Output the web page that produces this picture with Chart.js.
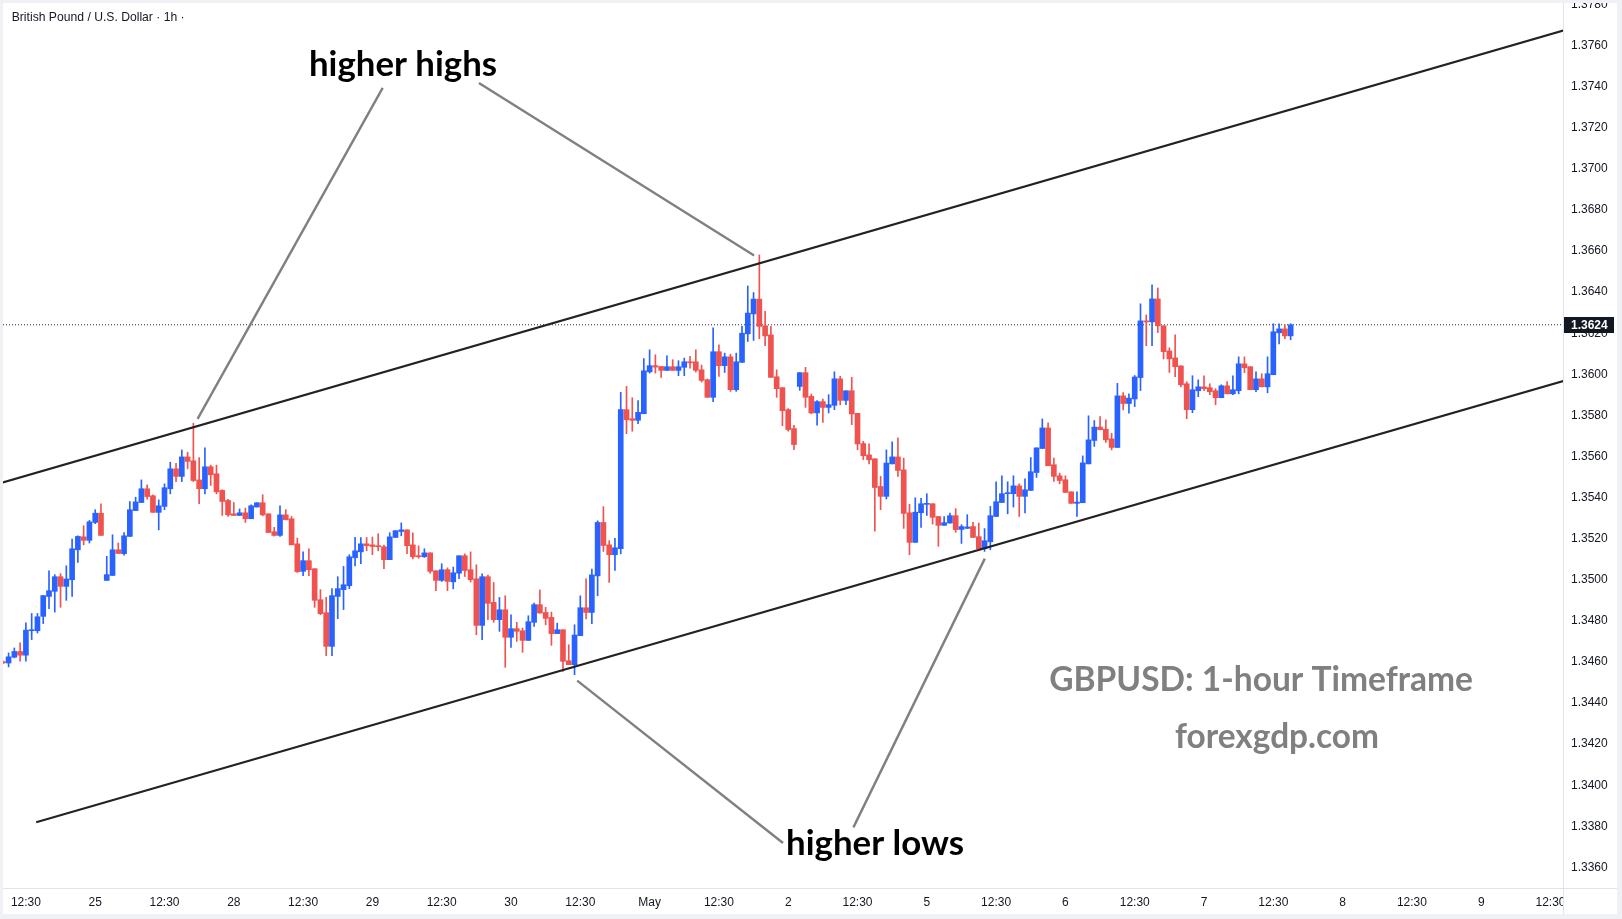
<!DOCTYPE html>
<html><head><meta charset="utf-8">
<script src="https://cdn.jsdelivr.net/npm/chart.js@4"></script>
<style>html,body{margin:0;padding:0;background:#F0F1F4;}canvas{display:block;}</style>
</head><body>
<canvas id="c" width="1622" height="919"></canvas>
<script>
const opens=[1.34602,1.34595,1.34623,1.34651,1.34633,1.34752,1.34752,1.34822,1.34919,1.34944,
1.35015,1.34968,1.35000,1.35146,1.35209,1.35192,1.35279,1.35324,1.34997,1.35021,
1.35146,1.35127,1.35211,1.35337,1.35376,1.35443,1.35409,1.35328,1.35357,1.35443,
1.35540,1.35503,1.35598,1.35579,1.35486,1.35443,1.35550,1.35516,1.35435,1.35386,
1.35321,1.35313,1.35326,1.35297,1.35354,1.35375,1.35321,1.35234,1.35216,1.35316,
1.35297,1.35175,1.35041,1.35093,1.35054,1.34903,1.34840,1.34676,1.34919,1.34952,
1.34971,1.35107,1.35136,1.35175,1.35170,1.35166,1.35161,1.35098,1.35206,1.35235,
1.35243,1.35170,1.35117,1.35112,1.35131,1.35044,1.34997,1.35049,1.34990,1.35032,
1.35117,1.35049,1.35005,1.34778,1.35015,1.34890,1.34806,1.34854,1.34720,1.34762,
1.34752,1.34705,1.34793,1.34879,1.34841,1.34817,1.34738,1.34757,1.34606,1.34587,
1.34728,1.34864,1.34841,1.35019,1.35279,1.35170,1.35122,1.35151,1.35828,1.35784,
1.35776,1.35808,1.36012,1.36042,1.36038,1.36019,1.36037,1.36019,1.36034,1.36061,
1.36061,1.36022,1.35974,1.35888,1.36110,1.36042,1.36085,1.35925,1.36058,1.36197,
1.36294,1.36366,1.36236,1.36192,1.35988,1.35935,1.35828,1.35736,1.35941,1.36008,
1.35893,1.35812,1.35867,1.35839,1.35849,1.35978,1.35873,1.35920,1.35810,1.35663,
1.35608,1.35589,1.35454,1.35406,1.35564,1.35598,1.35535,1.35326,1.35182,1.35326,
1.35367,1.35370,1.35308,1.35265,1.35276,1.35312,1.35245,1.35250,1.35259,1.35210,
1.35151,1.35185,1.35308,1.35376,1.35419,1.35419,1.35457,1.35406,1.35435,1.35522,
1.35639,1.35739,1.35560,1.35506,1.35487,1.35428,1.35372,1.35375,1.35564,1.35678,
1.35743,1.35733,1.35686,1.35644,1.35895,1.35858,1.35880,1.35984,1.36260,1.36255,
1.36367,1.36236,1.36114,1.36080,1.36041,1.35954,1.35828,1.35920,1.35939,1.35935,
1.35920,1.35886,1.35944,1.35905,1.35920,1.36051,1.36037,1.35925,1.35978,1.35939,
1.35998,1.36202,1.36221,1.36187];
const highs=[1.34605,1.34644,1.34668,1.34693,1.34791,1.34836,1.34836,1.34923,1.35044,1.35025,
1.35030,1.35068,1.35198,1.35214,1.35263,1.35289,1.35341,1.35370,1.35114,1.35219,
1.35179,1.35230,1.35381,1.35402,1.35486,1.35462,1.35414,1.35389,1.35467,1.35572,
1.35567,1.35632,1.35621,1.35762,1.35595,1.35642,1.35558,1.35558,1.35438,1.35392,
1.35376,1.35345,1.35349,1.35365,1.35375,1.35414,1.35321,1.35255,1.35360,1.35341,
1.35308,1.35203,1.35136,1.35151,1.35054,1.34952,1.34915,1.34957,1.35015,1.35065,
1.35122,1.35206,1.35205,1.35206,1.35208,1.35224,1.35169,1.35229,1.35239,1.35277,
1.35243,1.35229,1.35165,1.35151,1.35131,1.35044,1.35078,1.35058,1.35062,1.35117,
1.35126,1.35136,1.35073,1.35029,1.35023,1.34987,1.34914,1.34922,1.34830,1.34793,
1.34765,1.34825,1.34887,1.34951,1.34866,1.34843,1.34789,1.34757,1.34684,1.34781,
1.34922,1.35005,1.35052,1.35287,1.35356,1.35190,1.35202,1.35912,1.35941,1.35886,
1.35872,1.36076,1.36119,1.36095,1.36038,1.36090,1.36071,1.36066,1.36079,1.36087,
1.36119,1.36045,1.35977,1.36226,1.36144,1.36103,1.36098,1.36103,1.36233,1.36430,
1.36398,1.36581,1.36306,1.36233,1.36022,1.35935,1.35833,1.35752,1.36008,1.36034,
1.35904,1.35872,1.35880,1.35901,1.36012,1.35990,1.35920,1.35985,1.35810,1.35674,
1.35662,1.35589,1.35503,1.35632,1.35671,1.35691,1.35592,1.35367,1.35399,1.35396,
1.35419,1.35370,1.35308,1.35308,1.35325,1.35346,1.35268,1.35317,1.35279,1.35276,
1.35249,1.35357,1.35477,1.35506,1.35477,1.35506,1.35467,1.35491,1.35595,1.35642,
1.35783,1.35764,1.35592,1.35519,1.35506,1.35428,1.35428,1.35603,1.35798,1.35775,
1.35794,1.35778,1.35713,1.35956,1.35911,1.35905,1.35994,1.36343,1.36289,1.36435,
1.36420,1.36236,1.36129,1.36192,1.36041,1.35964,1.35993,1.35973,1.35993,1.35954,
1.35930,1.35949,1.35964,1.35993,1.36085,1.36085,1.36037,1.36012,1.36003,1.36085,
1.36246,1.36246,1.36241,1.36246];
const lows=[1.34592,1.34576,1.34620,1.34604,1.34604,1.34709,1.34741,1.34787,1.34860,1.34843,
1.34866,1.34900,1.34919,1.35085,1.35170,1.35179,1.35273,1.35216,1.34997,1.35021,
1.35128,1.35120,1.35211,1.35337,1.35376,1.35392,1.35328,1.35243,1.35341,1.35418,
1.35478,1.35478,1.35540,1.35478,1.35370,1.35418,1.35459,1.35418,1.35313,1.35308,
1.35313,1.35313,1.35279,1.35297,1.35354,1.35311,1.35230,1.35213,1.35211,1.35292,
1.35170,1.35036,1.35020,1.35020,1.34866,1.34830,1.34631,1.34631,1.34811,1.34855,
1.34957,1.35068,1.35078,1.35141,1.35122,1.35141,1.35054,1.35098,1.35206,1.35214,
1.35127,1.35102,1.35105,1.35109,1.35032,1.34947,1.34992,1.34947,1.34956,1.35005,
1.35016,1.34989,1.34733,1.34708,1.34806,1.34793,1.34749,1.34574,1.34671,1.34700,
1.34647,1.34705,1.34773,1.34838,1.34781,1.34681,1.34738,1.34554,1.34587,1.34538,
1.34728,1.34809,1.34786,1.34922,1.35138,1.34987,1.35045,1.35126,1.35711,1.35723,
1.35760,1.35808,1.36006,1.36006,1.35985,1.36019,1.36019,1.35993,1.35993,1.36030,
1.36011,1.35962,1.35888,1.35867,1.35990,1.36009,1.35917,1.35917,1.36058,1.36160,
1.36165,1.36173,1.36139,1.35985,1.35888,1.35750,1.35723,1.35633,1.35922,1.35839,
1.35808,1.35752,1.35766,1.35812,1.35828,1.35852,1.35852,1.35755,1.35633,1.35585,
1.35564,1.35236,1.35341,1.35393,1.35564,1.35503,1.35250,1.35122,1.35182,1.35255,
1.35313,1.35271,1.35163,1.35265,1.35276,1.35231,1.35177,1.35250,1.35206,1.35151,
1.35138,1.35146,1.35308,1.35376,1.35321,1.35354,1.35308,1.35325,1.35435,1.35498,
1.35639,1.35555,1.35479,1.35467,1.35425,1.35372,1.35308,1.35375,1.35564,1.35649,
1.35730,1.35668,1.35632,1.35644,1.35827,1.35811,1.35843,1.35921,1.36139,1.36139,
1.36203,1.36075,1.36009,1.35988,1.35939,1.35784,1.35813,1.35891,1.35920,1.35901,
1.35852,1.35886,1.35905,1.35901,1.35905,1.36008,1.35925,1.35915,1.35939,1.35910,
1.35998,1.36148,1.36173,1.36168];
const closes=[1.34595,1.34625,1.34651,1.34633,1.34755,1.34757,1.34820,1.34923,1.34947,1.35015,
1.34968,1.35004,1.35151,1.35211,1.35192,1.35282,1.35324,1.35216,1.35025,1.35146,
1.35128,1.35214,1.35341,1.35379,1.35443,1.35405,1.35328,1.35360,1.35448,1.35540,
1.35503,1.35598,1.35576,1.35483,1.35443,1.35550,1.35511,1.35428,1.35381,1.35316,
1.35313,1.35326,1.35297,1.35360,1.35375,1.35316,1.35230,1.35216,1.35316,1.35292,
1.35170,1.35039,1.35093,1.35049,1.34900,1.34835,1.34676,1.34923,1.34957,1.34976,
1.35112,1.35141,1.35175,1.35166,1.35162,1.35161,1.35098,1.35209,1.35239,1.35243,
1.35166,1.35112,1.35112,1.35131,1.35041,1.34997,1.35049,1.34992,1.35034,1.35117,
1.35045,1.35000,1.34778,1.35015,1.34885,1.34806,1.34854,1.34720,1.34762,1.34749,
1.34705,1.34796,1.34879,1.34838,1.34812,1.34738,1.34757,1.34603,1.34587,1.34731,
1.34864,1.34841,1.35024,1.35279,1.35167,1.35122,1.35156,1.35828,1.35779,1.35776,
1.35815,1.36017,1.36042,1.36035,1.36019,1.36037,1.36019,1.36037,1.36061,1.36056,
1.36019,1.35970,1.35888,1.36110,1.36042,1.36085,1.35925,1.36061,1.36200,1.36298,
1.36366,1.36233,1.36187,1.35985,1.35930,1.35823,1.35731,1.35658,1.36008,1.35888,
1.35812,1.35867,1.35839,1.35852,1.35978,1.35873,1.35920,1.35807,1.35661,1.35604,
1.35584,1.35449,1.35406,1.35568,1.35598,1.35532,1.35323,1.35182,1.35329,1.35370,
1.35372,1.35304,1.35265,1.35278,1.35312,1.35244,1.35259,1.35257,1.35206,1.35151,
1.35190,1.35312,1.35380,1.35419,1.35423,1.35457,1.35406,1.35438,1.35526,1.35642,
1.35739,1.35555,1.35503,1.35483,1.35425,1.35372,1.35378,1.35569,1.35681,1.35743,
1.35730,1.35681,1.35644,1.35895,1.35858,1.35884,1.35987,1.36260,1.36255,1.36367,
1.36236,1.36110,1.36075,1.36037,1.35949,1.35828,1.35925,1.35939,1.35930,1.35915,
1.35886,1.35944,1.35905,1.35925,1.36051,1.36032,1.35925,1.35978,1.35939,1.36003,
1.36207,1.36221,1.36187,1.36241];

const timeLabels=["12:30","25","12:30","28","12:30","29","12:30","30","12:30","May","12:30","2",
"12:30","5","12:30","6","12:30","7","12:30","8","12:30","9","12:30"];

// drawings in data units: [bar, price]
const upperChannel=[[0,1.35474],[270.2,1.37673]];
const lowerChannel=[[5.78,1.33820],[270.2,1.35967]];
const pointerLines=[
  [[65.78,1.37394],[33.73,1.35783]],
  [[82.44,1.37418],[130.10,1.36578]],
  [[99.46,1.34509],[135.10,1.33719]],
  [[170.04,1.35103],[147.29,1.33795]]
];
const noteTexts=["higher highs","higher lows","GBPUSD: 1-hour Timeframe","forexgdp.com"];
const noteBars=[69.30,151.03,217.87,220.64];
const notePrices=[1.37451,1.33661,1.34460,1.34180];
const headerText="British Pound / U.S. Dollar · 1h ·";

const UP='#2962FF', DOWN='#EF5350';
const X_MIN=0.035, X_MAX=270.16, Y_MIN=1.33500, Y_MAX=1.37807;
const idx=opens.map((_,i)=>i);
const candleColors=idx.map(i=>closes[i]>=opens[i]?UP:DOWN);
const lastClose=closes[closes.length-1];

const noteStyle=[
  {w:188,color:'#000000'},{w:178,color:'#000000'},{w:424,color:'#808080'},{w:204,color:'#808080'}
];
function fitFont(ctx,text,weight,family,width){
  ctx.font=weight+' 100px '+family;
  const w=ctx.measureText(text).width;
  return weight+' '+(100*width/w).toFixed(2)+'px '+family;
}

const deco={
  id:'deco',
  beforeDraw(chart){
    const ctx=chart.ctx;
    ctx.save();
    ctx.fillStyle='#F0F1F4';ctx.fillRect(0,0,1622,919);
    ctx.fillStyle='#FFFFFF';ctx.fillRect(3,3,1614,911);
    ctx.restore();
  },
  afterDatasetsDraw(chart){
    const ctx=chart.ctx,xs=chart.scales.x,ys=chart.scales.y;
    ctx.save();
    ctx.textAlign='center';ctx.textBaseline='alphabetic';
    noteTexts.forEach((t,i)=>{
      ctx.font=fitFont(ctx,t,'bold','Lato, "Open Sans", sans-serif',noteStyle[i].w);
      ctx.fillStyle=noteStyle[i].color;
      ctx.fillText(t,xs.getPixelForValue(noteBars[i]),ys.getPixelForValue(notePrices[i]));
    });
    ctx.restore();
  },
  afterDraw(chart){
    const ctx=chart.ctx,a=chart.chartArea,ys=chart.scales.y;
    ctx.save();
    ctx.fillStyle='#FFFFFF';
    ctx.fillRect(a.right,a.bottom,1617-a.right,914-a.bottom);
    ctx.strokeStyle='#E0E3EB';ctx.lineWidth=1;
    ctx.beginPath();
    ctx.moveTo(3,a.bottom+0.5);ctx.lineTo(1617,a.bottom+0.5);
    ctx.moveTo(a.right+0.5,3);ctx.lineTo(a.right+0.5,914);
    ctx.stroke();
    const y=Math.round(ys.getPixelForValue(lastClose));
    ctx.fillStyle='#131722';
    ctx.fillRect(a.right+1,y-8,50,16);
    ctx.fillStyle='#FFFFFF';
    ctx.font='bold 12px "Liberation Sans", Arial, sans-serif';
    ctx.textAlign='left';ctx.textBaseline='middle';
    ctx.fillText(lastClose.toFixed(4),a.right+8,y+0.5);
    ctx.fillStyle='#131722';
    ctx.font=fitFont(ctx,headerText,'normal','"Liberation Sans", Arial, sans-serif',173);
    ctx.fillText(headerText,11.7,17.5);
    ctx.fillStyle='#F0F1F4';
    ctx.fillRect(0,0,1622,3);ctx.fillRect(1617,0,5,919);ctx.fillRect(0,914,1622,5);ctx.fillRect(0,0,3,919);
    ctx.restore();
  }
};

const lineDs=(pts,color,width,dash,order)=>({
  type:'line',data:pts.map(p=>({x:p[0],y:p[1]})),borderColor:color,borderWidth:width,
  borderDash:dash||[],pointRadius:0,tension:0,order:order,fill:false
});

const datasets=[
  lineDs([[X_MIN,lastClose],[X_MAX,lastClose]],'#2A2E39',1,[1,2],5),
  {type:'bar',data:idx.map(i=>({x:i,y:[lows[i],highs[i]]})),backgroundColor:candleColors,
   barThickness:1,grouped:false,borderWidth:0,order:4},
  {type:'bar',data:idx.map(i=>({x:i,y:[opens[i],closes[i]]})),backgroundColor:candleColors,
   barThickness:5,grouped:false,borderWidth:0,minBarLength:1,order:3},
  lineDs(upperChannel,'#222222',2.2,null,1),
  lineDs(lowerChannel,'#222222',2.2,null,1),
  ...pointerLines.map(l=>lineDs(l,'#808080',2.4,null,0))
];

Chart.defaults.font.family='"Liberation Sans", Arial, sans-serif';
new Chart(document.getElementById('c'),{
  type:'bar',
  data:{datasets},
  options:{
    responsive:false,animation:false,devicePixelRatio:1,events:[],
    layout:{padding:{left:3,top:3,right:5,bottom:5}},
    plugins:{legend:{display:false},tooltip:{enabled:false}},
    scales:{
      x:{type:'linear',min:X_MIN,max:X_MAX,offset:false,
        grid:{display:false,drawTicks:false},border:{display:false},
        afterFit(s){s.height=26;s.paddingLeft=0;s.paddingRight=0;},
        afterBuildTicks(s){s.ticks=timeLabels.map((_,j)=>({value:4+12*j}));},
        ticks:{autoSkip:false,maxRotation:0,padding:7,color:'#131722',font:{size:12},
          callback:(v,i)=>timeLabels[i]}},
      y:{type:'linear',position:'right',min:Y_MIN,max:Y_MAX,
        grid:{display:false,drawTicks:false},border:{display:false},
        afterFit(s){s.width=54;s.paddingTop=0;s.paddingBottom=0;},
        ticks:{stepSize:0.002,includeBounds:false,padding:8,color:'#131722',font:{size:12},
          callback:v=>Number(v).toFixed(4)}}
    }
  },
  plugins:[deco]
});
</script>
</body></html>
